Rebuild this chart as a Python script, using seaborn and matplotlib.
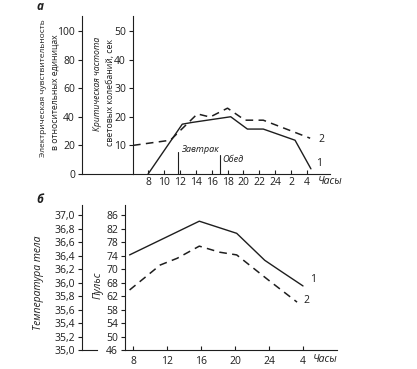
import numpy as np
import pandas as pd
import matplotlib
matplotlib.use('Agg')
import matplotlib.pyplot as plt
import seaborn as sns

# ------------------------------
# Данные
# ------------------------------
# а: критическая частота световых колебаний (1) и электрическая чувствительность (2)
top_hours_1 = [8.0, 12.3, 13.5, 18.4, 20.5, 22.5, 26.5, 28.5]
top_vals_1 = [0.0, 17.4, 18.0, 20.0, 15.7, 15.7, 11.8, 1.8]
top_hours_2 = [6.1, 10.8, 14.2, 15.8, 18.0, 20.2, 22.5, 28.4]
top_vals_2 = [10.0, 11.8, 21.0, 19.9, 23.0, 18.8, 18.8, 12.5]

top_xticks = [8, 10, 12, 14, 16, 18, 20, 22, 24, 26, 28]
top_xlabels = ['8', '10', '12', '14', '16', '18', '20', '22', '24', '2', '4']
freq_ticks = [10, 20, 30, 40, 50]
sens_ticks = [0, 20, 40, 60, 80, 100]

meals = ['Завтрак', 'Обед']
meal_hours = [11.8, 17.0]

# б: температура тела (1) и пульс (2)
bot_hours_1 = [7.6, 15.8, 20.2, 23.5, 25.5, 28.0]
bot_temp_1 = [36.41, 36.91, 36.73, 36.33, 36.16, 35.95]
bot_hours_2 = [7.6, 11.2, 13.2, 15.8, 18.2, 20.2, 23.9, 27.3]
bot_temp_2 = [35.89, 36.26, 36.36, 36.54, 36.45, 36.41, 36.04, 35.71]

bot_xticks = [8, 12, 16, 20, 24, 28]
bot_xlabels = ['8', '12', '16', '20', '24', '4']
temp_ticks = [37.0, 36.8, 36.6, 36.4, 36.2, 36.0, 35.8, 35.6, 35.4, 35.2, 35.0]
temp_labels = ['37,0', '36,8', '36,6', '36,4', '36,2', '36,0',
               '35,8', '35,6', '35,4', '35,2', '35,0']
pulse_labels = ['86', '82', '78', '74', '70', '68', '62', '58', '54', '50', '46']

# ------------------------------
# Оформление
# ------------------------------
sns.set_theme(style='ticks')
plt.rcParams['font.family'] = ['Open Sans', 'DejaVu Sans']
plt.rcParams['axes.linewidth'] = 0.8
plt.rcParams['xtick.major.width'] = 0.8
plt.rcParams['ytick.major.width'] = 0.8
plt.rcParams['xtick.major.size'] = 3
plt.rcParams['ytick.major.size'] = 3
plt.rcParams['xtick.major.pad'] = 2
plt.rcParams['ytick.major.pad'] = 2

INK = '#1e1e1e'
W, H = 417, 369
FS = 7.5

fig = plt.figure(figsize=(W / 100, H / 100), dpi=100)
fig.patch.set_facecolor('white')


def box(x0, x1, ytop, ybot):
    return [x0 / W, 1 - ybot / H, (x1 - x0) / W, (ybot - ytop) / H]


def clean(ax, left=True, bottom=True):
    ax.set_facecolor('none')
    for s in ['top', 'right']:
        ax.spines[s].set_visible(False)
    ax.spines['left'].set_visible(left)
    ax.spines['bottom'].set_visible(bottom)
    for s in ax.spines.values():
        s.set_color(INK)
    ax.tick_params(colors=INK, labelsize=FS, labelcolor=INK)
    ax.set_xlabel('')
    ax.set_ylabel('')


# ------------------------------
# Панель а
# ------------------------------
ax_sens = fig.add_axes(box(82, 133, 16, 174))
ax_sens.set_ylim(0, 110.5)
ax_sens.set_yticks(sens_ticks)
ax_sens.set_xticks([])
clean(ax_sens)

ax_a = fig.add_axes(box(133, 330, 16, 174))
df1 = pd.DataFrame({'hour': top_hours_1, 'val': top_vals_1})
df2 = pd.DataFrame({'hour': top_hours_2, 'val': top_vals_2})
sns.lineplot(data=df1, x='hour', y='val', ax=ax_a, sort=False, estimator=None,
             color=INK, linewidth=1.0)
sns.lineplot(data=df2, x='hour', y='val', ax=ax_a, sort=False, estimator=None,
             color=INK, linewidth=1.1, linestyle=(0, (5, 3.5)))
ax_a.set_xlim(6.1, 30.9)
ax_a.set_ylim(0, 55.2)
ax_a.set_yticks(freq_ticks)
ax_a.set_xticks(top_xticks)
ax_a.set_xticklabels(top_xlabels)
clean(ax_a)
ax_a.tick_params(axis='x', direction='in', pad=2)

meal_tops = [7.6, 6.6]
meal_text_y = [8.7, 5.2]
for name, h, top, ty in zip(meals, meal_hours, meal_tops, meal_text_y):
    ax_a.plot([h, h], [0, top], color=INK, lw=0.8)
    ax_a.text(h + 0.4, ty, name, fontsize=6.6, style='italic',
              color=INK, ha='left', va='center')

ax_a.text(29.4, 12.2, '2', fontsize=FS, color=INK, ha='left', va='center')
ax_a.text(29.1, 3.8, '1', fontsize=FS, color=INK, ha='left', va='center')
fig.text(318 / W, 1 - 181 / H, 'Часы', fontsize=FS, style='italic',
         color=INK, ha='left', va='center')

fig.text(44 / W, 1 - 88 / H, 'Электрическая чувствительность', rotation=90,
         fontsize=6.0, color=INK, ha='center', va='center')
fig.text(55 / W, 1 - 92 / H, 'в относительных единицах', rotation=90,
         fontsize=6.2, color=INK, ha='center', va='center')
fig.text(98 / W, 1 - 84 / H, 'Критическая частота', rotation=90,
         fontsize=6.2, style='italic', color=INK, ha='center', va='center')
fig.text(110 / W, 1 - 93 / H, 'световых колебаний, сек', rotation=90,
         fontsize=6.3, color=INK, ha='center', va='center')
fig.text(40 / W, 1 - 7 / H, 'а', fontsize=FS + 1, weight='bold',
         style='italic', color=INK, ha='center', va='center')

# ------------------------------
# Панель б
# ------------------------------
ax_temp = fig.add_axes(box(82, 97, 205, 350))
ax_temp.set_ylim(35.0, 37.15)
ax_temp.set_yticks(temp_ticks)
ax_temp.set_yticklabels(temp_labels)
ax_temp.set_xticks([])
clean(ax_temp)

ax_b = fig.add_axes(box(125, 337, 205, 350))
db1 = pd.DataFrame({'hour': bot_hours_1, 'val': bot_temp_1})
db2 = pd.DataFrame({'hour': bot_hours_2, 'val': bot_temp_2})
sns.lineplot(data=db1, x='hour', y='val', ax=ax_b, sort=False, estimator=None,
             color=INK, linewidth=1.0)
sns.lineplot(data=db2, x='hour', y='val', ax=ax_b, sort=False, estimator=None,
             color=INK, linewidth=1.1, linestyle=(0, (5, 3.5)))
ax_b.set_xlim(7.06, 32.0)
ax_b.set_ylim(35.0, 37.15)
ax_b.set_yticks(temp_ticks)
ax_b.set_yticklabels(pulse_labels)
ax_b.set_xticks(bot_xticks)
ax_b.set_xticklabels(bot_xlabels)
clean(ax_b)
ax_b.tick_params(axis='x', direction='in', pad=4)

ax_b.text(28.8, 36.05, '1', fontsize=FS, color=INK, ha='left', va='center')
ax_b.text(28.1, 35.74, '2', fontsize=FS, color=INK, ha='left', va='center')
fig.text(313 / W, 1 - 360 / H, 'Часы', fontsize=FS, style='italic',
         color=INK, ha='left', va='center')

fig.text(39 / W, 1 - 283 / H, 'Температура тела', rotation=90, style='italic',
         fontsize=FS, color=INK, ha='center', va='center')
fig.text(98 / W, 1 - 285 / H, 'Пульс', rotation=90, style='italic',
         fontsize=FS, color=INK, ha='center', va='center')
fig.text(40 / W, 1 - 200 / H, 'б', fontsize=FS + 1, weight='bold',
         style='italic', color=INK, ha='center', va='center')

fig.savefig('out.png', dpi=100, facecolor='white')
